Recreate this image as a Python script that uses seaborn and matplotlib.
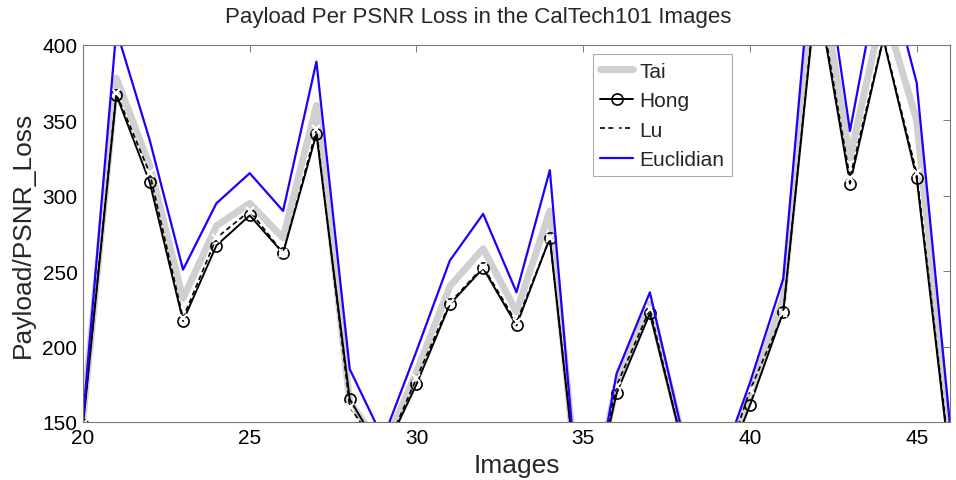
import numpy as np
import pandas as pd
import matplotlib
matplotlib.use("Agg")
import matplotlib.pyplot as plt
import seaborn as sns

images = list(range(20, 47))
tai = [152, 378, 320, 232, 280, 295, 272, 360, 163, 132, 183, 240, 265, 223, 290,
       70, 175, 228, 138, 110, 168, 232, 460, 325, 425, 350, 135]
hong = [148, 367, 309, 217, 267, 287, 262, 341, 165, 128, 175, 228, 252, 214, 272,
        70, 169, 222, 133, 105, 161, 223, 437, 308, 404, 312, 122]
lu = [149, 368, 315, 219, 272, 290, 262, 344, 160, 128, 179, 229, 253, 216, 272,
      72, 174, 225, 133, 105, 171, 222, 440, 312, 405, 315, 125]
euclidian = [152, 410, 337, 251, 295, 315, 290, 389, 185, 139, 197, 257, 288, 236, 317,
             60, 182, 236, 140, 114, 176, 245, 495, 343, 460, 375, 148]

sns.set_style("white")
plt.rcParams["font.family"] = ["Liberation Sans", "DejaVu Sans"]

fig = plt.figure(figsize=(9.56, 4.81), dpi=100)
ax = fig.add_axes([83 / 956, 1 - 423 / 481, (950 - 83) / 956, (423 - 46) / 481])

sns.lineplot(x=images, y=tai, ax=ax, color="#d0d0d0", linewidth=5, label="Tai")
sns.lineplot(x=images, y=hong, ax=ax, color="black", linewidth=1.4, marker="o",
             markersize=8, markerfacecolor="none", markeredgecolor="black",
             markeredgewidth=1.2, label="Hong")
sns.lineplot(x=images, y=lu, ax=ax, color="black", linewidth=1.2, linestyle=(0, (3, 2)),
             marker="x", markersize=6, markeredgewidth=1.6, label="Lu")
sns.lineplot(x=images, y=euclidian, ax=ax, color="#1a00ff", linewidth=1.6,
             label="Euclidian")

ax.set_xlim(20, 46)
ax.set_ylim(150, 400)
ax.set_xticks([20, 25, 30, 35, 40, 45])
ax.set_yticks([150, 200, 250, 300, 350, 400])
ax.tick_params(direction="in", length=5, width=0.6, labelsize=15, colors="#666666",
               labelcolor="black", top=True, right=True, pad=4)
for s in ax.spines.values():
    s.set_visible(True)
    s.set_color("#777777")
    s.set_linewidth(0.8)

fig.text(0.5, 1 - 17 / 481, "Payload Per PSNR Loss in the CalTech101 Images",
         ha="center", va="center", fontsize=16)
ax.set_xlabel("Images", fontsize=19, labelpad=5)
ax.set_ylabel("Payload/PSNR_Loss", fontsize=19, labelpad=5)

leg = ax.legend(loc="upper left", bbox_to_anchor=(0.588, 0.975), fontsize=15,
                frameon=True, fancybox=False, edgecolor="#999999",
                handlelength=1.6, handletextpad=0.3, borderpad=0.35,
                labelspacing=0.5, borderaxespad=0)
leg.get_frame().set_linewidth(0.8)

fig.savefig("out.png", dpi=100)
